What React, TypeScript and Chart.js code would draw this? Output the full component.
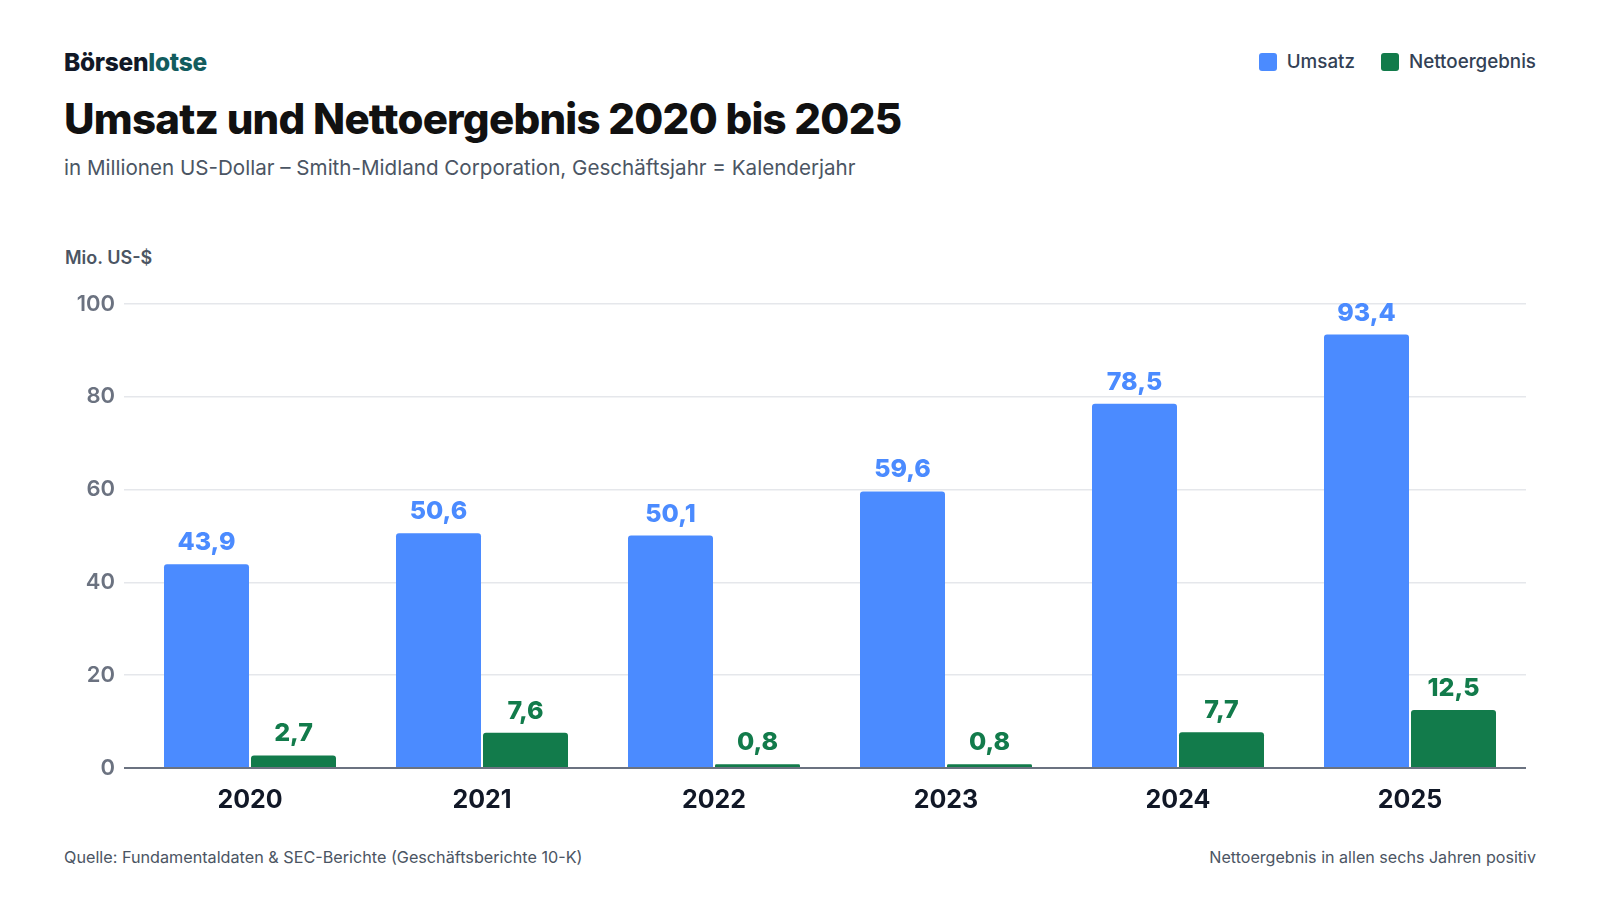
import React, { useEffect, useRef } from "react";
import { Chart, registerables } from "chart.js";

Chart.register(...registerables);

const years = ["2020", "2021", "2022", "2023", "2024", "2025"];
const umsatz = [43.9, 50.6, 50.1, 59.6, 78.5, 93.4];
const netto = [2.7, 7.6, 0.8, 0.8, 7.7, 12.5];
const yTicks = [0, 20, 40, 60, 80, 100];

const BLUE = "#4B8BFF";
const GREEN = "#127B4B";
const FONT = "Inter, 'Noto Sans', sans-serif";

const fmt = (v: number) => v.toFixed(1).replace(".", ",");

const valueLabels = {
  id: "valueLabels",
  afterDatasetsDraw(chart: any) {
    const ctx = chart.ctx;
    ctx.save();
    ctx.font = `800 25px ${FONT}`;
    ctx.textAlign = "center";
    ctx.textBaseline = "alphabetic";
    chart.data.datasets.forEach((ds: any, di: number) => {
      const meta = chart.getDatasetMeta(di);
      ctx.fillStyle = ds.backgroundColor;
      meta.data.forEach((bar: any, i: number) => {
        ctx.fillText(fmt(ds.data[i]), bar.x, bar.y - 14);
      });
    });
    ctx.restore();
  },
};

export default function App() {
  const ref = useRef<HTMLCanvasElement | null>(null);

  useEffect(() => {
    if (!ref.current) return;
    const chart = new Chart(ref.current, {
      type: "bar",
      data: {
        labels: years,
        datasets: [
          {
            label: "Umsatz",
            data: umsatz,
            backgroundColor: BLUE,
            borderRadius: 3,
            categoryPercentage: 0.75,
            barPercentage: 0.977,
          },
          {
            label: "Nettoergebnis",
            data: netto,
            backgroundColor: GREEN,
            borderRadius: 3,
            categoryPercentage: 0.75,
            barPercentage: 0.977,
          },
        ],
      },
      options: {
        animation: false,
        responsive: false,
        maintainAspectRatio: false,
        devicePixelRatio: 1,
        layout: { padding: { top: 24, left: 0, right: 74, bottom: 0 } },
        plugins: {
          legend: { display: false },
          tooltip: { enabled: false },
          title: { display: false },
        },
        scales: {
          x: {
            grid: { display: false, drawTicks: false },
            border: { display: false },
            ticks: {
              color: "#111827",
              font: { family: FONT, size: 25, weight: "700" as any },
              padding: 17,
              maxRotation: 0,
            },
            afterFit: (s: any) => {
              s.height = 72;
            },
          },
          y: {
            min: 0,
            max: 100,
            afterBuildTicks: (s: any) => {
              s.ticks = yTicks.map((v) => ({ value: v }));
            },
            grid: {
              color: (c: any) => (c.tick && c.tick.value === 0 ? "#6B7280" : "#E5E7EB"),
              lineWidth: (c: any) => (c.tick && c.tick.value === 0 ? 2 : 1.5),
              drawTicks: true,
              tickLength: 10,
            },
            border: { display: false },
            ticks: {
              color: "#6B7280",
              font: { family: FONT, size: 22, weight: "600" as any },
              padding: 9,
            },
            afterFit: (s: any) => {
              s.width = 134;
            },
          },
        },
      },
      plugins: [valueLabels],
    });
    return () => chart.destroy();
  }, []);

  const abs = (o: React.CSSProperties): React.CSSProperties => ({
    position: "absolute",
    whiteSpace: "nowrap",
    lineHeight: 1,
    fontFamily: FONT,
    ...o,
  });

  return (
    <div
      style={{
        position: "relative",
        width: 1600,
        height: 900,
        background: "#ffffff",
        margin: -8,
        overflow: "hidden",
      }}
    >
      <div style={abs({ left: 64, top: 50, fontSize: 24.5, fontWeight: 800, color: "#111827", letterSpacing: -0.3 })}>
        Börsen<span style={{ color: "#125C5E" }}>lotse</span>
      </div>
      <div style={abs({ left: 64, top: 98, fontSize: 42, fontWeight: 800, color: "#111111", letterSpacing: -0.75 })}>
        Umsatz und Nettoergebnis 2020 bis 2025
      </div>
      <div style={abs({ left: 64, top: 158, fontSize: 20.6, fontWeight: 400, color: "#4B5563" })}>
        in Millionen US-Dollar – Smith-Midland Corporation, Geschäftsjahr = Kalenderjahr
      </div>
      <div style={abs({ left: 65, top: 249, fontSize: 18, fontWeight: 600, color: "#4B5563" })}>Mio. US-$</div>

      <div style={abs({ right: 64, top: 53, display: "flex", alignItems: "center", gap: 0 })}>
        <span style={{ width: 18, height: 18, borderRadius: 3, background: BLUE, display: "inline-block" }} />
        <span style={{ marginLeft: 10, fontSize: 18.8, fontWeight: 500, color: "#334155" }}>Umsatz</span>
        <span
          style={{ marginLeft: 26, width: 18, height: 18, borderRadius: 3, background: GREEN, display: "inline-block" }}
        />
        <span style={{ marginLeft: 10, fontSize: 18.8, fontWeight: 500, color: "#334155" }}>Nettoergebnis</span>
      </div>

      <canvas ref={ref} width={1600} height={560} style={{ position: "absolute", left: 0, top: 280, width: 1600, height: 560 }} />

      <div style={abs({ left: 64, top: 849, fontSize: 16.2, color: "#4B5563" })}>
        Quelle: Fundamentaldaten &amp; SEC-Berichte (Geschäftsberichte 10-K)
      </div>
      <div style={abs({ right: 64, top: 849, fontSize: 16.1, color: "#4B5563" })}>
        Nettoergebnis in allen sechs Jahren positiv
      </div>
    </div>
  );
}
